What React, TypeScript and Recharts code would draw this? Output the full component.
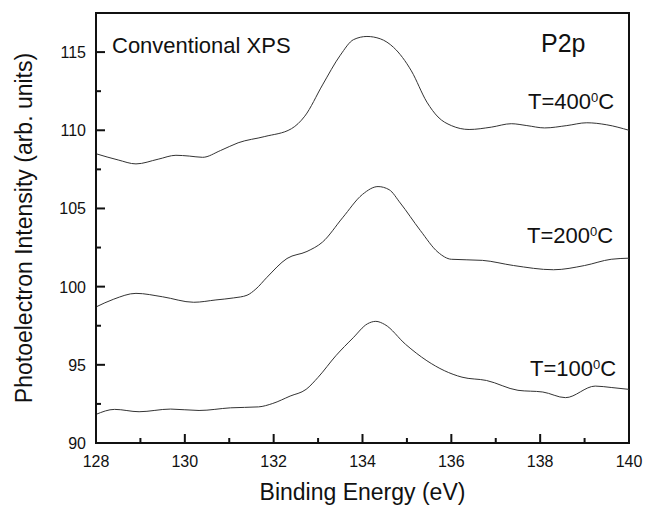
import React from 'react';
import { LineChart, Line, XAxis, YAxis, ReferenceArea, Label } from 'recharts';

// Binding energy (eV) sample points and photoelectron intensities
const energy400 = [128.0, 128.5, 128.9, 129.4, 129.8, 130.1, 130.4, 130.8, 131.2, 131.8, 132.4, 132.7, 133.1, 133.5, 133.8, 134.1, 134.4, 134.7, 135.1, 135.45, 135.7, 136.0, 136.4, 136.9, 137.35, 137.7, 138.1, 138.6, 139.05, 139.5, 140.0];
const intensity400 = [108.5, 108.1, 107.85, 108.15, 108.4, 108.35, 108.27, 108.7, 109.2, 109.6, 110.1, 110.9, 112.9, 114.8, 115.8, 116.0, 115.85, 115.3, 113.8, 111.8, 110.85, 110.3, 110.05, 110.2, 110.42, 110.3, 110.15, 110.3, 110.48, 110.35, 110.0];

const energy200 = [128.0, 128.4, 128.9, 129.5, 130.2, 130.7, 131.1, 131.4, 131.6, 131.85, 132.3, 132.75, 133.1, 133.55, 134.0, 134.35, 134.6, 134.85, 135.3, 135.7, 136.0, 136.7, 137.4, 138.3, 139.0, 139.6, 140.0];
const intensity200 = [98.7, 99.2, 99.57, 99.35, 99.0, 99.15, 99.28, 99.45, 99.85, 100.6, 101.8, 102.25, 102.85, 104.4, 105.9, 106.4, 106.2, 105.35, 103.6, 102.2, 101.75, 101.68, 101.35, 101.08, 101.35, 101.75, 101.82];

const energy100 = [128.0, 128.42, 128.97, 129.68, 130.32, 131.03, 131.66, 131.98, 132.37, 132.73, 133.0, 133.4, 133.79, 134.11, 134.3, 134.5, 134.97, 135.45, 135.84, 136.24, 136.79, 137.5, 138.06, 138.57, 139.24, 139.6, 140.0];
const intensity100 = [91.83, 92.15, 92.0, 92.17, 92.08, 92.25, 92.31, 92.53, 93.0, 93.43, 94.2, 95.58, 96.73, 97.62, 97.78, 97.58, 96.31, 95.26, 94.63, 94.21, 94.0, 93.37, 93.26, 92.9, 93.64, 93.55, 93.43];

const xTicks = [128, 129, 130, 131, 132, 133, 134, 135, 136, 137, 138, 139, 140];
const yTicks = [90, 92.5, 95, 97.5, 100, 102.5, 105, 107.5, 110, 112.5, 115];

const toSeries = (xs: number[], ys: number[]) => xs.map((e, i) => ({ e, v: ys[i] }));
const series400 = toSeries(energy400, intensity400);
const series200 = toSeries(energy200, intensity200);
const series100 = toSeries(energy100, intensity100);

const FONT = '"Liberation Sans", Arial, sans-serif';
const INK = '#111';

const XTick = (p: any) => {
  const v = p.payload.value;
  const major = v % 2 === 0;
  return (
    <g>
      <line x1={p.x} x2={p.x} y1={p.y} y2={p.y - (major ? 9 : 5)} stroke={INK} strokeWidth={2} />
      {major && (
        <text x={p.x} y={p.y + 24} textAnchor="middle" fontSize={16} fontFamily={FONT} fill={INK}>
          {v}
        </text>
      )}
    </g>
  );
};

const YTick = (p: any) => {
  const v = p.payload.value;
  const major = v % 5 === 0;
  return (
    <g>
      <line x1={p.x} x2={p.x + (major ? 9 : 5)} y1={p.y} y2={p.y} stroke={INK} strokeWidth={2} />
      {major && (
        <text x={p.x - 10} y={p.y + 6} textAnchor="end" fontSize={16} fontFamily={FONT} fill={INK}>
          {v}
        </text>
      )}
    </g>
  );
};

const XTitle = (props: any) => {
  const vb = props.viewBox;
  return (
    <text x={vb.x + vb.width / 2} y={500} textAnchor="middle" fontSize={23} fontFamily={FONT} fill={INK}>
      Binding Energy (eV)
    </text>
  );
};

const YTitle = (props: any) => {
  const vb = props.viewBox;
  const cy = vb.y + vb.height / 2;
  return (
    <text x={32} y={cy} transform={`rotate(-90, 32, ${cy})`} textAnchor="middle" fontSize={23} fontFamily={FONT} fill={INK}>
      Photoelectron Intensity (arb. units)
    </text>
  );
};

const TLabel = ({ x, y, t }: { x: number; y: number; t: string }) => (
  <text x={x} y={y} fontSize={22} fontFamily={FONT} fill={INK}>
    {`T=${t}`}
    <tspan dy={-7} fontSize={13}>0</tspan>
    <tspan dy={7}>C</tspan>
  </text>
);

export default function App() {
  return (
    <div style={{ position: 'absolute', left: 0, top: 0, width: 645, height: 506, background: '#fff' }}>
      <LineChart width={645} height={506} margin={{ top: 13, right: 16, left: 0, bottom: 0 }}>
        <XAxis
          dataKey="e"
          type="number"
          domain={[128, 140]}
          ticks={xTicks}
          interval={0}
          allowDataOverflow
          height={63}
          tickSize={0}
          tickMargin={0}
          tickLine={false}
          tick={XTick}
          axisLine={{ stroke: INK, strokeWidth: 2 }}
        >
          <Label content={XTitle} />
        </XAxis>
        <YAxis
          type="number"
          domain={[90, 117.5]}
          ticks={yTicks}
          interval={0}
          allowDataOverflow
          width={96}
          tickSize={0}
          tickMargin={0}
          tickLine={false}
          tick={YTick}
          axisLine={{ stroke: INK, strokeWidth: 2 }}
        >
          <Label content={YTitle} />
        </YAxis>
        <ReferenceArea x1={128} x2={140} y1={90} y2={117.5} fill="none" stroke={INK} strokeWidth={2} />
        <Line data={series400} dataKey="v" type="monotone" stroke="#333" strokeWidth={1} dot={false} isAnimationActive={false} />
        <Line data={series200} dataKey="v" type="monotone" stroke="#333" strokeWidth={1} dot={false} isAnimationActive={false} />
        <Line data={series100} dataKey="v" type="monotone" stroke="#333" strokeWidth={1} dot={false} isAnimationActive={false} />
      </LineChart>
      <svg width={645} height={506} style={{ position: 'absolute', left: 0, top: 0, pointerEvents: 'none' }}>
        <text x={112} y={53} fontSize={22} fontFamily={FONT} fill={INK}>Conventional XPS</text>
        <text x={541} y={52} fontSize={25} fontFamily={FONT} fill={INK}>P2p</text>
        <TLabel x={528} y={109} t="400" />
        <TLabel x={527} y={243} t="200" />
        <TLabel x={530} y={376} t="100" />
      </svg>
    </div>
  );
}
